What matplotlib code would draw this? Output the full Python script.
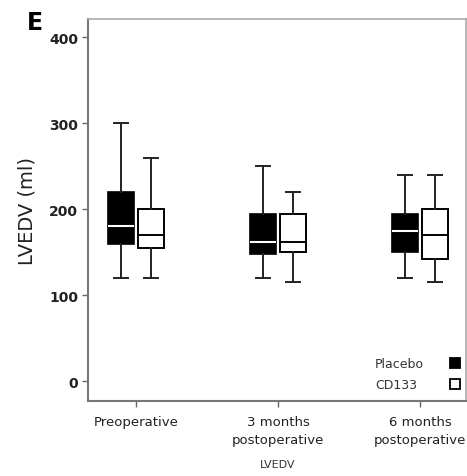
import matplotlib
matplotlib.use("Agg")
import matplotlib.pyplot as plt

plt.rcParams['font.family'] = ['DejaVu Sans']

categories = ["Preoperative", "3 months\npostoperative", "6 months\npostoperative"]
groups = ["Placebo", "CD133"]
# stats per category: (whislo, q1, med, q3, whishi)
placebo = [(120, 160, 180, 220, 300), (120, 148, 162, 195, 250), (120, 150, 175, 195, 240)]
cd133 = [(120, 155, 170, 200, 260), (115, 150, 162, 195, 220), (115, 142, 170, 200, 240)]
yticks = [0, 100, 200, 300, 400]

fig = plt.figure(figsize=(4.67, 4.77), dpi=100)
ax = fig.add_axes([0.1884, 0.157, 0.8096, 0.801])

def stats(vals):
    return [dict(whislo=a, q1=b, med=c, q3=d, whishi=e, fliers=[]) for a, b, c, d, e in vals]

off = 0.105
w = 0.18
pos = list(range(len(categories)))
ax.bxp(stats(placebo), positions=[p - off for p in pos], widths=w, patch_artist=True,
       showfliers=False, capwidths=0.1,
       boxprops=dict(facecolor='black', edgecolor='black', linewidth=1.2),
       medianprops=dict(color='white', linewidth=1.5),
       whiskerprops=dict(color='#222222', linewidth=1.4),
       capprops=dict(color='#222222', linewidth=1.4))
ax.bxp(stats(cd133), positions=[p + off for p in pos], widths=w, patch_artist=True,
       showfliers=False, capwidths=0.1,
       boxprops=dict(facecolor='white', edgecolor='black', linewidth=1.4),
       medianprops=dict(color='black', linewidth=1.4),
       whiskerprops=dict(color='#222222', linewidth=1.4),
       capprops=dict(color='#222222', linewidth=1.4))

ax.set_xlim(-0.338, 2.324)
ax.set_ylim(-23, 421)
ax.set_yticks(yticks)
ax.set_yticklabels([str(v) for v in yticks], fontsize=10, fontweight='bold', color='#222222')
ax.set_xticks(pos)
ax.set_xticklabels(categories, fontsize=9.5, color='#222222', linespacing=1.5)
ax.tick_params(axis='both', length=4, color='#666666', width=1)
ax.tick_params(axis='x', pad=6)
ax.tick_params(axis='y', pad=3)
for s in ['left', 'bottom']:
    ax.spines[s].set_color('#777777')
    ax.spines[s].set_linewidth(1.5)
for s in ['top', 'right']:
    ax.spines[s].set_color('#aaaaaa')
    ax.spines[s].set_linewidth(1.2)

ax.set_ylabel("LVEDV (ml)", fontsize=14, color='#222222', labelpad=9)

# legend (text left, marker right)
leg_y = [0.0995, 0.0445]
fills = ['black', 'white']
for g, yy, fc in zip(groups, leg_y, fills):
    ax.text(0.759, yy, g, transform=ax.transAxes, fontsize=9, color='#333333',
            ha='left', va='center')
    ax.plot([0.971], [yy], transform=ax.transAxes, marker='s', markersize=7,
            markerfacecolor=fc, markeredgecolor='black', markeredgewidth=1.3,
            linestyle='none', clip_on=False)

fig.text(35/467, 1 - 23/477, "E", fontsize=17, fontweight='bold', ha='center', va='center')
fig.text(278/467, 1 - 465/477, "LVEDV", fontsize=8, ha='center', va='center', color='#333333')

fig.savefig("out.png", dpi=100)
